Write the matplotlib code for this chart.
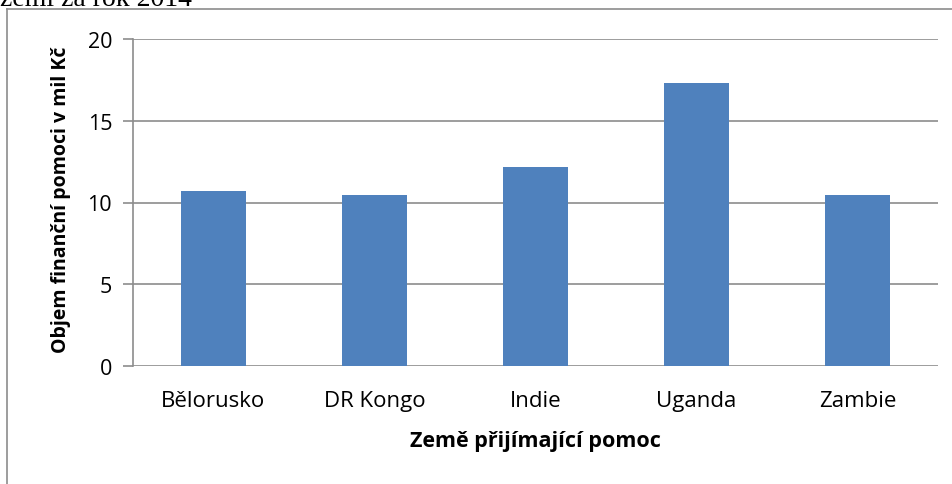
import matplotlib.pyplot as plt
from matplotlib.lines import Line2D
import numpy as np

# Data
countries = ["Bělorusko", "DR Kongo", "Indie", "Uganda", "Zambie"]
values = [10.7, 10.45, 12.15, 17.3, 10.45]
y_ticks = [0, 5, 10, 15, 20]

plt.rcParams['font.family'] = ['Open Sans', 'DejaVu Sans']

W, H = 953, 485
fig = plt.figure(figsize=(W / 100, H / 100), dpi=100)

# Chart frame (only left and top edges visible in the crop)
grey = "#8c8c8c"
fig.add_artist(Line2D([7 / W, 7 / W], [0, 1 - 10 / H], color=grey, lw=1.2, transform=fig.transFigure))
fig.add_artist(Line2D([7 / W, 1], [1 - 10 / H, 1 - 10 / H], color=grey, lw=1.2, transform=fig.transFigure))

# Clipped caption text above the chart
fig.text(0, 1 - 6 / H, "zemí za rok 2014", family="Liberation Serif", fontsize=20,
         ha="left", va="baseline")

ax = fig.add_axes([133 / W, 1 - 367 / H, (938 - 133) / W, (367 - 40) / H])

x = np.arange(len(countries))
ax.bar(x, values, width=0.4, color="#4f81bd", zorder=3)

ax.set_xlim(-0.5, len(countries) - 0.5)
ax.set_ylim(0, 20)
ax.set_yticks(y_ticks)
ax.set_xticks(x)
ax.set_xticklabels(countries)

ax.yaxis.grid(True, color="#8c8c8c", lw=1.2, zorder=0)
ax.set_axisbelow(True)

for side in ["top", "right", "bottom"]:
    ax.spines[side].set_visible(False)
ax.spines["left"].set_color(grey)
ax.spines["left"].set_linewidth(1.2)

ax.tick_params(axis="y", length=7, width=1.2, color=grey, labelsize=15.5, pad=8)
ax.tick_params(axis="x", length=0, labelsize=16, pad=17)

ax.set_xlabel("Země přijímající pomoc", fontsize=15.5, fontweight="bold", labelpad=14)
ax.set_ylabel("Objem finanční pomoci v mil Kč", fontsize=14, fontweight="bold")
ax.yaxis.set_label_coords(-0.077, 0.51)

plt.savefig("out.png", dpi=100)
